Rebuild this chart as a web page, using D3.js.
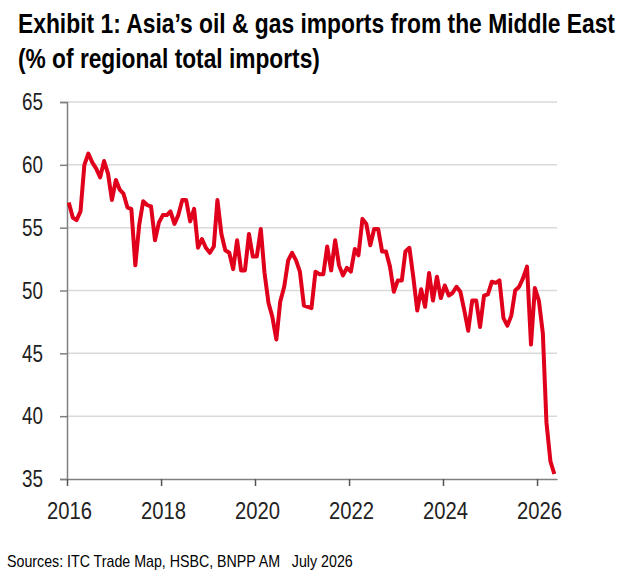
<!DOCTYPE html>
<html lang="en">
<head>
    <meta charset="UTF-8">
    <title>Exhibit 1</title>
    <style>
        body { margin: 0; background: #fff; }
        text { font-family: "Liberation Sans Narrow", "Arial Narrow", "Liberation Sans", sans-serif; }
    </style>
</head>
<body>
    <div class="canvas"></div>

    <script src="https://cdnjs.cloudflare.com/ajax/libs/d3/7.8.5/d3.min.js"></script>

    <script>
        // monthly share of oil & gas imports from the Middle East, % of regional total
        const y2016 = [57.0, 55.8, 55.6, 56.3, 60.0, 60.9, 60.2, 59.7, 59.0, 60.3, 59.3, 57.2];
        const y2017 = [58.8, 58.0, 57.7, 56.6, 56.5, 52.0, 55.2, 57.1, 56.8, 56.7, 54.0, 55.4];
        const y2018 = [56.0, 56.0, 56.3, 55.3, 56.0, 57.2, 57.2, 55.5, 56.5, 53.4, 54.1, 53.4];
        const y2019 = [53.0, 53.5, 57.2, 54.5, 53.2, 53.0, 51.7, 54.0, 51.6, 51.6, 54.5, 52.7];
        const y2020 = [52.7, 54.9, 51.4, 49.0, 47.9, 46.1, 49.1, 50.3, 52.4, 53.0, 52.4, 51.5];
        const y2021 = [48.8, 48.7, 48.6, 51.5, 51.3, 51.3, 53.5, 51.6, 54.0, 52.0, 51.2, 51.8];
        const y2022 = [51.5, 53.3, 52.8, 55.7, 55.3, 53.6, 54.9, 54.9, 53.1, 53.1, 51.9, 49.9];
        const y2023 = [50.8, 50.8, 53.1, 53.4, 51.1, 48.4, 50.1, 48.7, 51.4, 49.2, 51.1, 49.4];
        const y2024 = [50.4, 49.6, 49.8, 50.3, 49.9, 48.4, 46.8, 49.2, 49.2, 47.1, 49.6, 49.7];
        const y2025 = [50.7, 50.6, 50.8, 47.8, 47.2, 48.0, 50.0, 50.3, 51.0, 51.9, 45.7, 50.2];
        const y2026 = [49.2, 46.6, 39.5, 36.4, 35.4];

        const years = [2016, 2017, 2018, 2019, 2020, 2021, 2022, 2023, 2024, 2025, 2026];
        const series = [y2016, y2017, y2018, y2019, y2020, y2021, y2022, y2023, y2024, y2025, y2026];

        const yTicks = [35, 40, 45, 50, 55, 60, 65];
        const xTicks = [2016, 2018, 2020, 2022, 2024, 2026];

        const data = [];
        series.forEach((vals, i) => {
            vals.forEach((v, m) => data.push({ date: new Date(years[i], m, 15), value: v }));
        });

        const width = 631, height = 576;
        const plotLeft = 67, plotRight = 557, plotTop = 102, plotBottom = 479;

        const svg = d3.select(".canvas").append("svg")
            .attr("width", width)
            .attr("height", height);

        const x = d3.scaleTime()
            .domain([new Date(2016, 0, 1), new Date(2026, 5, 5)])
            .range([plotLeft, plotRight]);

        const y = d3.scaleLinear()
            .domain([35, 65])
            .range([plotBottom, plotTop]);

        // no narrow face installed, so squeeze the regular one to the reference widths
        const narrow = (sel, w) => sel.attr("textLength", w).attr("lengthAdjust", "spacingAndGlyphs");

        // for the long texts: scale the whole text so its box really is that wide
        function squeezed(tx, ty, w, size, weight, str) {
            const t = svg.append("text")
                .attr("x", 0).attr("y", 0)
                .attr("font-size", size).attr("font-weight", weight)
                .attr("fill", "#000")
                .style("white-space", "pre")
                .text(str);
            const k = w / t.node().getComputedTextLength();
            t.attr("transform", `translate(${tx},${ty}) scale(${k},1)`);
            return t;
        }

        // titles
        squeezed(18, 33, 597, 27, "bold", "Exhibit 1: Asia\u2019s oil & gas imports from the Middle East");
        squeezed(18, 68, 302, 27, "bold", "(% of regional total imports)");

        // gridlines
        svg.append("g")
            .selectAll("line")
            .data(yTicks.filter(d => d > 35))
            .join("line")
                .attr("x1", plotLeft).attr("x2", plotRight)
                .attr("y1", d => y(d)).attr("y2", d => y(d))
                .attr("stroke", "#d9d9d9")
                .attr("stroke-width", 1.5);

        // y axis
        const yAxis = svg.append("g")
            .attr("transform", `translate(${plotLeft},0)`)
            .call(d3.axisLeft(y).tickValues(yTicks).tickSize(7).tickPadding(17));
        yAxis.select(".domain").attr("stroke", "#808080").attr("stroke-width", 1.5);
        yAxis.selectAll(".tick line").attr("stroke", "#808080").attr("stroke-width", 1.5);
        yAxis.selectAll(".tick text")
            .attr("font-size", 24).attr("fill", "#222")
            .attr("font-family", "'Liberation Sans Narrow', 'Arial Narrow', 'Liberation Sans', sans-serif")
            .call(narrow, 21);

        // x axis
        const xAxis = svg.append("g")
            .attr("transform", `translate(0,${plotBottom})`)
            .call(d3.axisBottom(x)
                .tickValues(xTicks.map(d => new Date(d, 0, 1)))
                .tickFormat(d3.timeFormat("%Y"))
                .tickSize(7).tickPadding(16)
                .tickSizeOuter(0));
        xAxis.select(".domain").attr("stroke", "#808080").attr("stroke-width", 1.5);
        xAxis.selectAll(".tick line").attr("stroke", "#555").attr("stroke-width", 1.5);
        xAxis.selectAll(".tick text")
            .attr("font-size", 24).attr("fill", "#222")
            .attr("dx", 2)
            .attr("font-family", "'Liberation Sans Narrow', 'Arial Narrow', 'Liberation Sans', sans-serif")
            .call(narrow, 45);

        // series
        const line = d3.line()
            .x(d => x(d.date))
            .y(d => y(d.value));

        svg.append("path")
            .datum(data)
            .attr("fill", "none")
            .attr("stroke", "#e0001b")
            .attr("stroke-width", 4)
            .attr("stroke-linejoin", "round")
            .attr("d", line);

        // source note
        squeezed(7, 567, 346, 16, "normal", "Sources: ITC Trade Map, HSBC, BNPP AM   July 2026");
    </script>
</body>
</html>
